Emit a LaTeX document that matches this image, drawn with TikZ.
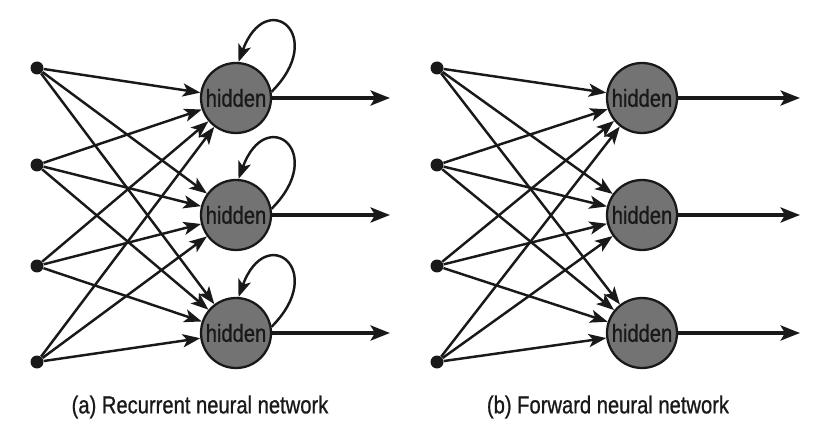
\documentclass[tikz,border=0pt]{standalone}
\usepackage{fontspec}
\setmainfont{Liberation Sans}[FakeStretch=0.82, FakeBold=0.8]
\usetikzlibrary{arrows.meta}

\tikzset{
    dot/.style={circle, fill=black!90, inner sep=0pt, minimum size=0.26cm},
    hid/.style={circle, draw=black!90, line width=1.3pt, fill=black!55,
        minimum size=1.4cm, inner sep=0pt, text=black!90,
        font=\fontsize{14}{16}\selectfont},
    link/.style={line width=1.4pt, draw=black!90, -{Stealth[length=10pt, width=7.5pt, inset=2.5pt]}},
    outlink/.style={line width=2.2pt, draw=black!90, -{Stealth[length=11pt, width=8.5pt, inset=2.5pt]}},
    caption/.style={font=\fontsize{14}{16}\selectfont, text=black!90}
}

\begin{document}
\begin{tikzpicture}[x=0.02cm, y=-0.02cm]
    \useasboundingbox (0,0) rectangle (813,428);
    % Two panels: inputs, hidden units, outputs
    \foreach \p/\xi/\xh/\xo in {a/37/236/390, b/437/642/800}
    {
        % Input dots
        \foreach \i/\y in {1/68, 2/165, 3/266, 4/362}
            \node[dot] (\p-in\i) at (\xi,\y) {};
        % Hidden units and their outputs
        \foreach \j/\y in {1/98, 2/215, 3/333}
        {
            \node[hid] (\p-h\j) at (\xh,\y) {hidden};
            \coordinate (\p-o\j) at (\xo,\y);
            \draw[outlink] (\p-h\j) -- (\p-o\j);
        }
        % Full connections
        \foreach \i in {1,...,4}
            \foreach \j in {1,2,3}
                \draw[link] (\p-in\i) -- (\p-h\j);
    }
    % Self loops (recurrent panel only)
    \foreach \j in {1,2,3}
        \draw[link] (a-h\j.10) to[out=45, in=70, looseness=4.6] (a-h\j.86);
    % Captions
    \node[caption] (capa) at (200,407) {(a) Recurrent neural network};
    \node[caption] (capb) at (608,407) {(b) Forward neural network};
\end{tikzpicture}
\end{document}
